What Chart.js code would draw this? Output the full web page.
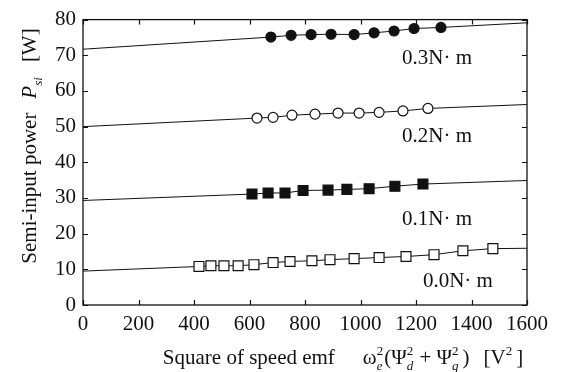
<!DOCTYPE html>
<html>
<head>
<meta charset="utf-8">
<script src="https://cdn.jsdelivr.net/npm/chart.js@4.4.1/dist/chart.umd.min.js"></script>
<style>
  html, body { margin: 0; padding: 0; background: #fff; }
  #wrap { width: 563px; height: 372px; }
</style>
</head>
<body>
<div id="wrap"><canvas id="chart" width="563" height="372"></canvas></div>
<script>
// -------- Data ----------
const xTicks = [0, 200, 400, 600, 800, 1000, 1200, 1400, 1600];
const yTicks = [0, 10, 20, 30, 40, 50, 60, 70, 80];

// 0.3 N·m  (filled circles)
const t03X = [677, 750, 822, 894, 977, 1049, 1121, 1193, 1290];
const t03Y = [75.1, 75.6, 75.8, 75.9, 75.8, 76.3, 76.8, 77.5, 77.8];
const t03Fit = [71.7, 79.1];   // fit line value at x = 0 and x = 1600

// 0.2 N·m  (open circles)
const t02X = [627, 685, 753, 836, 919, 995, 1067, 1153, 1243];
const t02Y = [52.4, 52.6, 53.2, 53.5, 53.8, 53.8, 54.0, 54.4, 55.1];
const t02Fit = [50.0, 56.2];

// 0.1 N·m  (filled squares)
const t01X = [609, 667, 728, 793, 883, 951, 1031, 1124, 1225];
const t01Y = [31.1, 31.4, 31.4, 32.1, 32.2, 32.4, 32.6, 33.3, 33.9];
const t01Fit = [29.3, 34.9];

// 0.0 N·m  (open squares)
const t00X = [418, 461, 508, 559, 616, 685, 746, 825, 890, 977, 1067, 1164, 1265, 1369, 1477];
const t00Y = [10.8, 11.0, 11.0, 11.0, 11.3, 11.9, 12.2, 12.4, 12.7, 13.0, 13.3, 13.6, 14.1, 15.2, 15.8];
const t00Fit = [9.5, 15.9];

const seriesLabels = ["0.3N· m", "0.2N· m", "0.1N· m", "0.0N· m"];
// where each torque label sits, in data units
const labelX = [1276, 1276, 1276, 1351];
const labelY = [69.0, 47.1, 24.1, 6.6];

// -------- Helpers ----------
const SERIF = "'Liberation Serif', 'Times New Roman', serif";
const INK = "#111";
Chart.defaults.font.family = SERIF;

function series(xs, ys, fit, style, filled, r) {
  const pts = [{ x: xTicks[0], y: fit[0] }];
  xs.forEach((x, i) => pts.push({ x, y: ys[i] }));
  pts.push({ x: xTicks[xTicks.length - 1], y: fit[1] });
  const radii = pts.map((p, i) => (i === 0 || i === pts.length - 1) ? 0 : r);
  return {
    data: pts,
    showLine: true,
    borderColor: INK,
    borderWidth: 1,
    pointStyle: style,
    pointRadius: radii,
    pointHoverRadius: radii,
    pointBackgroundColor: filled ? INK : "#fff",
    pointBorderColor: INK,
    pointBorderWidth: 1.2
  };
}

// width of a run of text pieces, with sub / superscripts
function richWidth(ctx, segs, size) {
  let w = 0;
  segs.forEach(s => {
    if (s.gap) { w += s.gap; return; }
    if (s.t) { ctx.font = `${s.it ? "italic " : ""}${size}px ${SERIF}`; w += ctx.measureText(s.t).width; return; }
    ctx.font = `italic ${size * 0.62}px ${SERIF}`;
    const a = s.sub ? ctx.measureText(s.sub).width : 0;
    ctx.font = `${size * 0.62}px ${SERIF}`;
    const b = s.sup ? ctx.measureText(s.sup).width : 0;
    w += Math.max(a, b) + 1;
  });
  return w;
}

function drawRich(ctx, segs, size, x, y) {
  ctx.textBaseline = "alphabetic";
  ctx.textAlign = "left";
  segs.forEach(s => {
    if (s.gap) { x += s.gap; return; }
    if (s.t) {
      ctx.font = `${s.it ? "italic " : ""}${size}px ${SERIF}`;
      ctx.fillText(s.t, x, y);
      x += ctx.measureText(s.t).width;
      return;
    }
    let a = 0, b = 0;
    if (s.sub) {
      ctx.font = `italic ${size * 0.62}px ${SERIF}`;
      ctx.fillText(s.sub, x, y + size * 0.28);
      a = ctx.measureText(s.sub).width;
    }
    if (s.sup) {
      ctx.font = `${size * 0.62}px ${SERIF}`;
      ctx.fillText(s.sup, x, y - size * 0.42);
      b = ctx.measureText(s.sup).width;
    }
    x += Math.max(a, b) + 1;
  });
}

const xTitle = [
  { t: "Square of speed emf" }, { gap: 28 },
  { t: "ω" }, { sub: "e", sup: "2" }, { t: "(Ψ" }, { sub: "d", sup: "2" },
  { t: " + Ψ" }, { sub: "q", sup: "2" }, { gap: 3 }, { t: ")" }, { gap: 14 },
  { t: "[V" }, { sup: "2" }, { gap: 3 }, { t: "]" }
];
const yTitle = [
  { t: "Semi-input power" }, { gap: 14 },
  { t: "P", it: true }, { sub: "si" }, { gap: 14 }, { t: "[W]" }
];

// -------- Frame, inner ticks, labels, titles ----------
const decor = {
  id: "decor",
  afterDraw(chart) {
    const { ctx, chartArea: a, scales } = chart;
    const sx = scales.x, sy = scales.y;
    ctx.save();
    ctx.strokeStyle = INK;
    ctx.lineWidth = 1.3;
    ctx.strokeRect(a.left, a.top, a.right - a.left, a.bottom - a.top);

    ctx.lineWidth = 1.2;
    ctx.beginPath();
    xTicks.forEach(v => {
      const px = Math.round(sx.getPixelForValue(v)) + 0.5;
      ctx.moveTo(px, a.bottom); ctx.lineTo(px, a.bottom - 5);
      ctx.moveTo(px, a.top); ctx.lineTo(px, a.top + 5);
    });
    yTicks.forEach(v => {
      const py = Math.round(sy.getPixelForValue(v)) + 0.5;
      ctx.moveTo(a.left, py); ctx.lineTo(a.left + 5, py);
      ctx.moveTo(a.right, py); ctx.lineTo(a.right - 5, py);
    });
    ctx.stroke();

    ctx.fillStyle = INK;
    ctx.font = `21px ${SERIF}`;
    ctx.textAlign = "center";
    ctx.textBaseline = "middle";
    seriesLabels.forEach((s, i) => {
      ctx.fillText(s, sx.getPixelForValue(labelX[i]), sy.getPixelForValue(labelY[i]));
    });

    // x title
    const xs = 21;
    const wx = richWidth(ctx, xTitle, xs);
    drawRich(ctx, xTitle, xs, 343 - wx / 2, 364);

    // y title, rotated
    const ys = 21;
    ctx.save();
    ctx.translate(36, 146);
    ctx.rotate(-Math.PI / 2);
    const wy = richWidth(ctx, yTitle, ys);
    drawRich(ctx, yTitle, ys, -wy / 2, 0);
    ctx.restore();

    ctx.restore();
  }
};

// -------- Chart ----------
new Chart(document.getElementById("chart"), {
  type: "scatter",
  data: {
    datasets: [
      series(t03X, t03Y, t03Fit, "circle", true, 5),
      series(t02X, t02Y, t02Fit, "circle", false, 5),
      series(t01X, t01Y, t01Fit, "rect", true, 7),
      series(t00X, t00Y, t00Fit, "rect", false, 7)
    ]
  },
  options: {
    responsive: false,
    animation: false,
    layout: { padding: { left: 0, top: 13, right: 36, bottom: 0 } },
    plugins: { legend: { display: false }, tooltip: { enabled: false } },
    scales: {
      x: {
        type: "linear",
        min: xTicks[0],
        max: xTicks[xTicks.length - 1],
        afterBuildTicks: s => { s.ticks = xTicks.map(v => ({ value: v })); },
        afterFit: s => { s.height = 67; },
        grid: { display: false, drawTicks: false },
        border: { display: false },
        ticks: { color: INK, padding: 7, maxRotation: 0, callback: v => String(v),
                 font: { family: SERIF, size: 21 } }
      },
      y: {
        type: "linear",
        min: yTicks[0],
        max: yTicks[yTicks.length - 1],
        afterBuildTicks: s => { s.ticks = yTicks.map(v => ({ value: v })); },
        afterFit: s => { s.width = 83; },
        grid: { display: false, drawTicks: false },
        border: { display: false },
        ticks: { color: INK, padding: 7, callback: v => String(v),
                 font: { family: SERIF, size: 21 } }
      }
    }
  },
  plugins: [decor]
});
</script>
</body>
</html>
